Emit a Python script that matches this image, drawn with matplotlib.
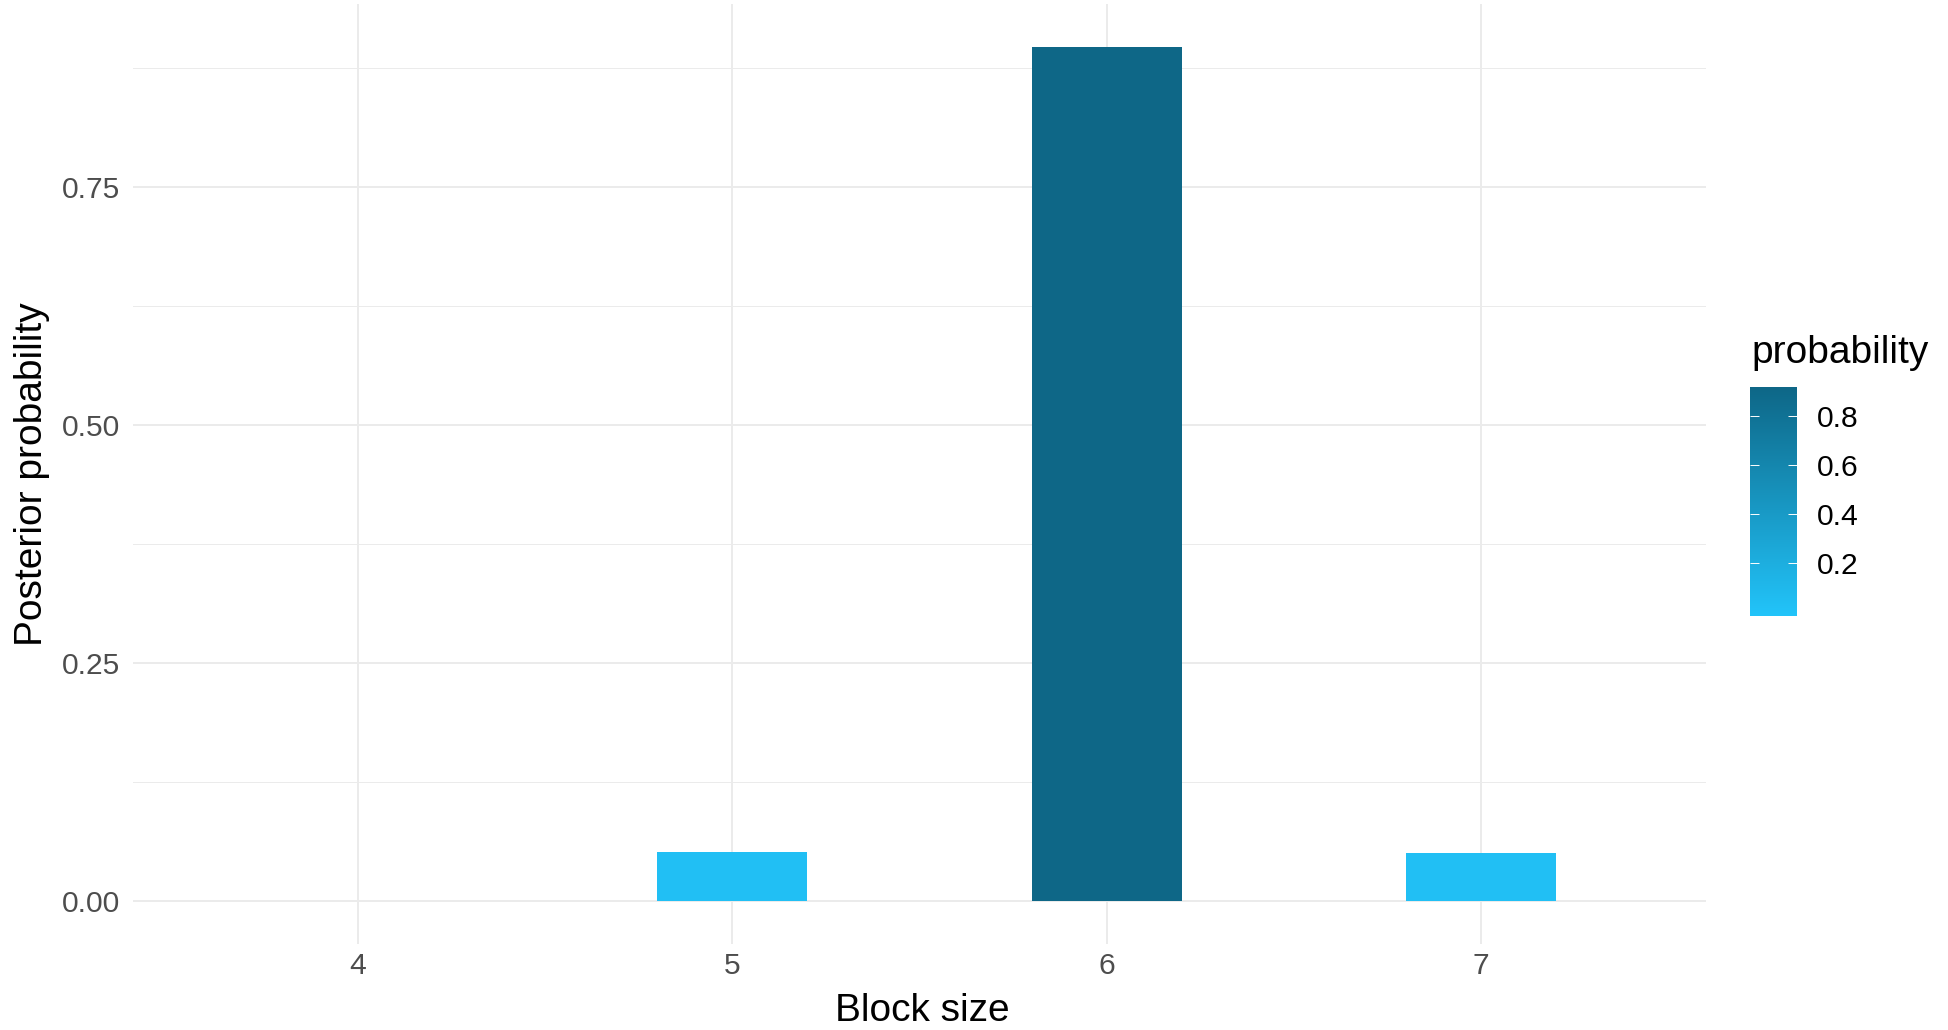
import numpy as np
import matplotlib
matplotlib.use("Agg")
import matplotlib.pyplot as plt
from matplotlib.colors import LinearSegmentedColormap, Normalize

plt.rcParams["font.family"] = ["Liberation Sans", "DejaVu Sans"]

# posterior probability per block size
block_size = [4, 5, 6, 7]
probability = [0.0005, 0.052, 0.8965, 0.051]
y_ticks = [0.00, 0.25, 0.50, 0.75]
y_minor = [0.125, 0.375, 0.625, 0.875]
cbar_ticks = [0.2, 0.4, 0.6, 0.8]

cmap = LinearSegmentedColormap.from_list("prob", ["#22C4FA", "#0E6787"])
norm = Normalize(vmin=min(probability), vmax=max(probability))

fig = plt.figure(figsize=(19.48, 10.30), dpi=100)
ax = fig.add_axes([133 / 1948, 86 / 1030, (1706 - 133) / 1948, (944 - 4.4) / 1030])

ax.bar(block_size, probability, width=0.4, color=cmap(norm(probability)), zorder=3)

ax.set_xlim(3.4, 7.6)
ax.set_ylim(-0.0448, 0.9413)
ax.set_xticks(block_size)
ax.set_yticks(y_ticks)
ax.set_yticklabels([f"{t:.2f}" for t in y_ticks])
ax.set_yticks(y_minor, minor=True)
ax.grid(True, which="major", color="#EBEBEB", linewidth=1.4, zorder=0)
ax.grid(True, which="minor", axis="y", color="#EBEBEB", linewidth=0.7, zorder=0)
ax.tick_params(which="both", length=0, labelsize=21.6, labelcolor="#4D4D4D")
ax.tick_params(axis="x", pad=6)
ax.tick_params(axis="y", pad=9)
for s in ax.spines.values():
    s.set_visible(False)

fig.text(922 / 1948, 9 / 1030, "Block size", fontsize=28, ha="center", va="baseline")
fig.text(32 / 1948, 1 - 474 / 1030, "Posterior probability", fontsize=28,
         rotation=90, ha="center", va="center")

# colour bar legend
cax = fig.add_axes([1750 / 1948, (1030 - 616) / 1030, 47 / 1948, 229 / 1030])
lo, hi = -0.017, 0.918
grad = np.linspace(min(probability), max(probability), 256).reshape(-1, 1)
cax.imshow(grad, cmap=cmap, norm=norm, aspect="auto", origin="lower",
           extent=[0, 1, lo, hi])
cax.set_xlim(0, 1)
cax.set_ylim(lo, hi)
cax.set_xticks([])
cax.set_yticks(cbar_ticks)
cax.set_yticklabels([f"{t:.1f}" for t in cbar_ticks])
cax.tick_params(axis="y", direction="in", left=True, right=True, labelleft=False,
                labelright=True, color="white", length=6.7, width=0.7,
                labelsize=21.6, pad=14)
for s in cax.spines.values():
    s.set_visible(False)
fig.text(1751 / 1948, 1 - 363 / 1030, "probability", fontsize=28, ha="left", va="baseline")

fig.savefig("out.png", dpi=100)
